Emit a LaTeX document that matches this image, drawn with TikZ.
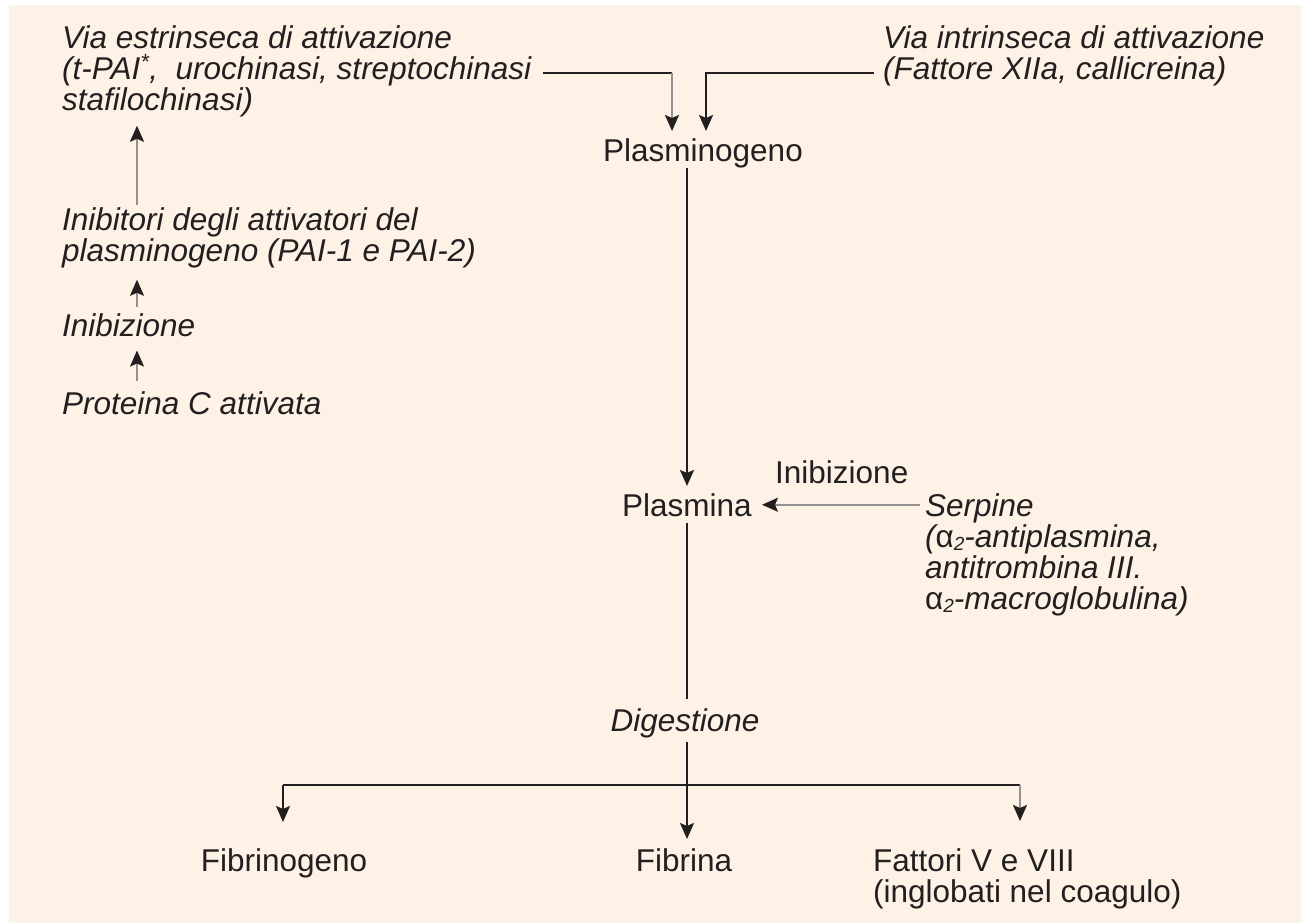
\documentclass[tikz,border=0pt]{standalone}
\usepackage{fontspec}
\setmainfont{Liberation Sans}
\usetikzlibrary{arrows.meta,calc}
\definecolor{paper}{RGB}{253,242,229}
\definecolor{ink}{RGB}{35,31,32}
\definecolor{shaft}{RGB}{145,145,145}
\newcommand{\alphasub}{{\upshape α}\raisebox{-0.12em}{\fontsize{19}{19}\selectfont 2}}
\tikzset{
  lbl/.style={inner sep=0pt, text=ink, font=\fontsize{31.5}{31}\selectfont, align=left},
  ilbl/.style={lbl, font=\fontsize{31.5}{31}\selectfont\itshape},
  link/.style={draw=ink, line width=1.8pt},
  arr/.style={link, -{Stealth[length=16pt,width=14pt,inset=3pt,color=ink]}},
  garr/.style={arr, draw=shaft},
}
\begin{document}
\begin{tikzpicture}[x=1pt,y=-1pt]
% sheet and panel
\fill[white] (0,0) rectangle (1301,923);
\fill[paper] (9,5) rectangle (1301,923);
\useasboundingbox (0,0) rectangle (1301,923);

% activation pathways
\node[ilbl, anchor=north west] (estr) at (62,25)
  {Via estrinseca di attivazione\\(t-PAI\textsuperscript{*},\ \ urochinasi, streptochinasi\\stafilochinasi)};
\node[ilbl, anchor=north west] (intr) at (883,25)
  {Via intrinseca di attivazione\\(Fattore XIIa, callicreina)};
\node[lbl, anchor=base] (plg) at (703,161) {Plasminogeno};

% inhibitors of the activators
\node[ilbl, anchor=north west] (inib) at (62,207)
  {Inibitori degli attivatori del\\plasminogeno (PAI-1 e PAI-2)};
\node[ilbl, anchor=base west] (inz) at (62,336) {Inibizione};
\node[ilbl, anchor=base west] (prot) at (62,414) {Proteina C attivata};

% plasmin and serpins
\node[lbl, anchor=base] (pla) at (687,516) {Plasmina};
\node[lbl, anchor=base west] (inz2) at (775,483) {Inibizione};
\node[ilbl, anchor=north west] (ser) at (925,493)
  {Serpine\\(\alphasub-antiplasmina,\\antitrombina III.\\\alphasub-macroglobulina)};

% digestion products
\node[ilbl, anchor=base] (dig) at (685,731) {Digestione};
\node[lbl, anchor=base] (fbg) at (284,871) {Fibrinogeno};
\node[lbl, anchor=base] (fib) at (684,871) {Fibrina};
\node[lbl, anchor=north west] (fat) at (873,848)
  {Fattori V e VIII\\(inglobati nel coagulo)};

% bend points
\coordinate (eTurn) at (672,73);
\coordinate (iTurn) at (706,73);
\coordinate (lx) at (137,0);
\coordinate (bL) at (283,785);
\coordinate (bR) at (1020,785);

% activators -> plasminogen
\draw[link] ([xshift=12pt]estr.east |- eTurn) -- (eTurn);
\draw[garr, shorten >=7pt] (eTurn) -- (eTurn |- plg.north);
\draw[arr, shorten >=7pt] ([xshift=-9pt]intr.west |- iTurn) -| (iTurn |- plg.north);

% inhibition chain on the left
\draw[garr, shorten <=10pt, shorten >=14pt] (lx |- prot.north) -- (lx |- inz.south);
\draw[garr, shorten <=6pt, shorten >=12pt] (lx |- inz.north) -- (lx |- inib.south);
\draw[garr, shorten <=2pt, shorten >=9pt] (lx |- inib.north) -- (lx |- estr.south);

% plasminogen -> plasmin, serpins
\draw[arr, shorten >=7pt] (pla.north |- plg.south) -- (pla.north);
\draw[garr, shorten <=5pt, shorten >=10pt] (ser.west |- pla.east) -- (pla.east);

% plasmin -> digestion -> products
\draw[link, shorten <=6pt, shorten >=9pt] (pla.south) -- (pla.south |- dig.north);
\draw[arr, shorten <=4pt, shorten >=9pt] (pla.south |- dig.south) -- (pla.south |- fib.north);
\draw[link] (bL) -- (bR);
\draw[arr, shorten >=26pt] (bL) -- (bL |- fbg.north);
\draw[garr, shorten >=27pt] (bR) -- (bR |- fat.north);
\end{tikzpicture}
\end{document}
